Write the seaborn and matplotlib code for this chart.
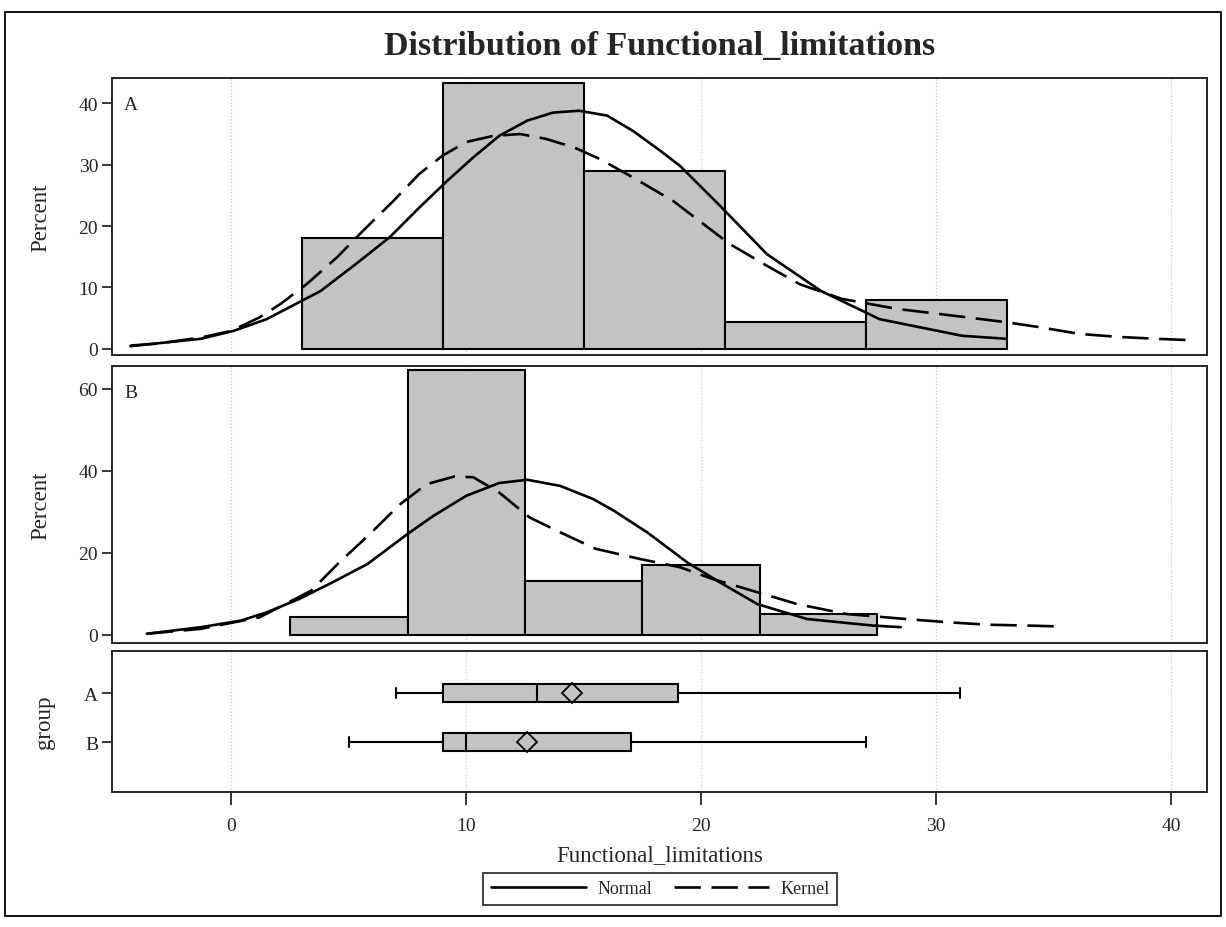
import numpy as np
import pandas as pd
import seaborn as sns
import matplotlib
matplotlib.use("Agg")
import matplotlib.pyplot as plt
from matplotlib.lines import Line2D
from matplotlib.patches import Rectangle

# ---------------- data ----------------
title = "Distribution of Functional_limitations"
xlabel = "Functional_limitations"
groups = ["A", "B"]

# histogram group A (bin edges, percents)
a_edges = [3, 9, 15, 21, 27, 33]
a_pct = [18.0, 43.3, 29.0, 4.4, 8.0]
# histogram group B
b_edges = [2.5, 7.5, 12.5, 17.5, 22.5, 27.5]
b_pct = [4.4, 64.6, 13.1, 17.0, 5.0]

# normal curve A
a_norm_x = [-4.3, -1.3, 0.1, 1.5, 2.1, 3.8, 5.3, 6.75, 8.0, 9.2, 10.3, 11.4, 12.6,
            13.7, 14.8, 16.0, 17.1, 18.25, 19.1, 20.8, 22.8, 25.1, 27.6, 31.1, 33.0]
a_norm_y = [0.4, 1.6, 2.9, 4.8, 6.0, 9.4, 13.8, 18.2, 23.0, 27.4, 31.2, 34.7, 37.2,
            38.5, 38.8, 38.0, 35.5, 32.3, 29.8, 23.3, 15.4, 9.4, 4.8, 2.1, 1.6]
# kernel curve A
a_kern_x = [-4.3, -3.2, -1.3, 0.0, 1.2, 2.1, 3.2, 4.5, 5.6, 6.9, 8.0, 9.0, 10.0, 11.15,
            12.3, 13.4, 14.6, 15.7, 17.1, 18.8, 21.2, 22.8, 24.2, 26.0, 28.3, 31.1,
            33.0, 34.4, 36.1, 37.8, 39.4, 40.7]
a_kern_y = [0.5, 0.8, 1.8, 2.9, 5.1, 7.3, 10.5, 14.9, 19.2, 24.1, 28.5, 31.5, 33.7, 34.7,
            35.0, 34.2, 32.8, 30.9, 27.9, 24.1, 17.1, 13.5, 10.5, 8.1, 6.5, 5.2,
            4.3, 3.5, 2.4, 1.9, 1.6, 1.4]

# normal curve B
b_norm_x = [-3.6, -1.3, 0.4, 1.5, 2.9, 4.3, 5.8, 7.5, 8.6, 10.0, 11.4, 12.6, 14.0,
            15.4, 16.3, 17.7, 19.4, 20.8, 22.4, 24.5, 27.3, 28.5]
b_norm_y = [0.3, 1.9, 3.5, 5.5, 8.8, 12.8, 17.3, 24.6, 29.0, 33.9, 37.0, 37.8, 36.3,
            33.1, 30.2, 25.0, 17.7, 12.8, 7.5, 3.9, 2.3, 1.9]
# kernel curve B
b_kern_x = [-3.6, -1.3, 1.2, 3.4, 4.6, 5.9, 7.2, 8.3, 9.5, 10.3, 11.4, 12.7, 14.0,
            15.5, 17.4, 19.1, 20.5, 22.4, 24.1, 26.2, 28.7, 30.5, 32.2, 33.9, 35.1]
b_kern_y = [0.3, 1.5, 4.3, 10.8, 17.7, 24.6, 31.9, 36.7, 38.6, 38.4, 34.7, 28.6, 25.0,
            21.0, 18.5, 16.5, 13.6, 10.4, 7.5, 5.1, 3.9, 3.1, 2.5, 2.3, 2.1]

# box plot statistics
box_whislo = [7, 5]
box_q1 = [9, 9]
box_med = [13, 10]
box_q3 = [19, 17]
box_whishi = [31, 27]
box_mean = [14.5, 12.6]

x_ticks = [0, 10, 20, 30, 40]

# ---------------- style ----------------
sns.set_style("ticks")
plt.rcParams["font.family"] = ["Liberation Serif", "DejaVu Serif"]
plt.rcParams["axes.linewidth"] = 1.4

BAR = "#c3c3c3"
W, H = 1226, 928
fig = plt.figure(figsize=(W / 100, H / 100), dpi=100)


def frac(l, t, r, b):
    return [l / W, 1 - b / H, (r - l) / W, (b - t) / H]


axA = fig.add_axes(frac(112, 79, 1207, 356))
axB = fig.add_axes(frac(112, 367, 1207, 644))
axC = fig.add_axes(frac(112, 652, 1207, 793))

XLIM = (-5.08, 41.53)
dash = (0, (10, 4))
TICK_FS = 14
LAB_FS = 16.5


def hist_panel(ax, edges, pct, nx, ny, kx, ky, ylim, yticks, label):
    centers = [(edges[i] + edges[i + 1]) / 2 for i in range(len(pct))]
    sns.histplot(x=centers, weights=pct, bins=edges, stat="count", ax=ax,
                 color=BAR, edgecolor="black", linewidth=1.5, alpha=1.0)
    sns.lineplot(x=nx, y=ny, ax=ax, color="black", linewidth=1.9)
    sns.lineplot(x=kx, y=ky, ax=ax, color="black", linewidth=1.9, linestyle=dash)
    ax.set_xlim(*XLIM)
    ax.set_ylim(*ylim)
    ax.set_yticks(yticks)
    ax.set_xticks(x_ticks)
    ax.tick_params(axis="x", bottom=False, labelbottom=False)
    ax.tick_params(axis="y", direction="out", length=7, width=1.3,
                   labelsize=TICK_FS, pad=3)
    ax.grid(axis="x", color="#c8c8c8", linestyle=":", linewidth=0.9)
    ax.set_axisbelow(True)
    ax.set_xlabel("")
    ax.set_ylabel("Percent", fontsize=LAB_FS)
    ax.yaxis.set_label_coords(-0.055, 0.5)
    ax.text(0.011, 0.905, label, transform=ax.transAxes, fontsize=14,
            ha="left", va="center")
    for s in ax.spines.values():
        s.set_visible(True)
        s.set_linewidth(1.4)


hist_panel(axA, a_edges, a_pct, a_norm_x, a_norm_y, a_kern_x, a_kern_y,
           (-1.04, 44.14), [0, 10, 20, 30, 40], "A")
hist_panel(axB, b_edges, b_pct, b_norm_x, b_norm_y, b_kern_x, b_kern_y,
           (-1.95, 65.5), [0, 20, 40, 60], "B")

# ---------------- box panel ----------------
stats = []
for i, g in enumerate(groups):
    stats.append(dict(label=g, whislo=box_whislo[i], q1=box_q1[i], med=box_med[i],
                      q3=box_q3[i], whishi=box_whishi[i], mean=box_mean[i], fliers=[]))
bkw = dict(positions=[0, 1], widths=0.38, patch_artist=True, showmeans=True,
           meanline=False, showfliers=False, manage_ticks=False, capwidths=0.2,
           boxprops=dict(facecolor=BAR, edgecolor="black", linewidth=1.5),
           medianprops=dict(color="black", linewidth=1.5),
           whiskerprops=dict(color="black", linewidth=1.5),
           capprops=dict(color="black", linewidth=1.5),
           meanprops=dict(marker="D", markerfacecolor="none", markeredgecolor="black",
                          markersize=10, markeredgewidth=1.3))
try:
    axC.bxp(stats, orientation="horizontal", **bkw)
except TypeError:
    axC.bxp(stats, vert=False, **bkw)

axC.set_xlim(*XLIM)
axC.set_ylim(2.02, -0.86)
axC.set_yticks([0, 1])
axC.set_yticklabels(groups)
axC.set_xticks(x_ticks)
axC.set_xticklabels([str(v) for v in x_ticks])
axC.tick_params(axis="x", direction="out", length=9, width=1.3,
                labelsize=TICK_FS, pad=9)
axC.tick_params(axis="y", direction="out", length=7, width=1.3,
                labelsize=TICK_FS, pad=3)
axC.grid(axis="x", color="#c8c8c8", linestyle=":", linewidth=0.9)
axC.set_axisbelow(True)
axC.set_ylabel("group", fontsize=LAB_FS)
axC.yaxis.set_label_coords(-0.052, 0.5)
axC.set_xlabel(xlabel, fontsize=LAB_FS, labelpad=7)
for s in axC.spines.values():
    s.set_visible(True)
    s.set_linewidth(1.4)

# ---------------- title, legend, frame ----------------
fig.text(660 / W, 1 - 47 / H, title, ha="center", va="center",
         fontsize=24.5, fontweight="bold")

handles = [Line2D([], [], color="black", linewidth=1.9),
           Line2D([], [], color="black", linewidth=1.9, linestyle=dash)]
leg = fig.legend(handles, ["Normal", "Kernel"], loc="center",
                 bbox_to_anchor=(660 / W, 1 - 890 / H), ncol=2, fontsize=13,
                 frameon=True, fancybox=False, edgecolor="black",
                 handlelength=5.3, columnspacing=1.2, handletextpad=0.6,
                 borderpad=0.4)
leg.get_frame().set_linewidth(1.3)

fig.patches.append(Rectangle((5 / W, 1 - 917 / H), (1221 - 5) / W, (917 - 13) / H,
                             transform=fig.transFigure, fill=False,
                             edgecolor="black", linewidth=1.3))

fig.savefig("out.png", dpi=100)
